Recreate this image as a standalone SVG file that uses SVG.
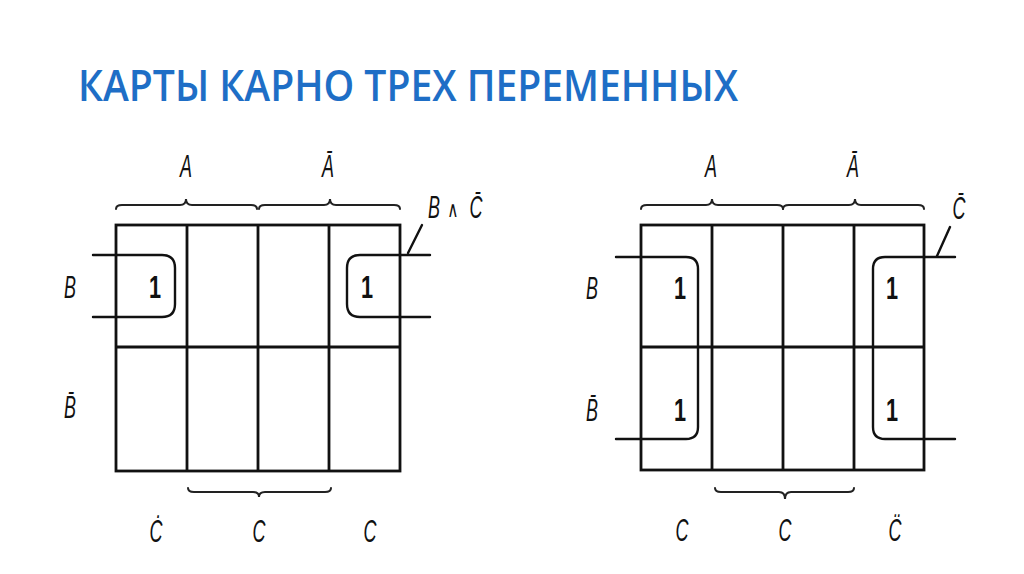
<svg xmlns="http://www.w3.org/2000/svg" width="1024" height="574" viewBox="0 0 1024 574">
<style>
.title{font-family:"Open Sans","Noto Sans",sans-serif;font-weight:600;font-size:44px;fill:#1E6EC6}
.grid{fill:none;stroke:#111;stroke-width:2.8}
.loop{fill:none;stroke:#111;stroke-width:2.4;stroke-linecap:round;stroke-linejoin:round}
.brace{fill:none;stroke:#222;stroke-width:2;stroke-linecap:round}
.lbl{font-family:"Liberation Sans","DejaVu Sans",sans-serif;font-style:italic;font-size:31px;fill:#111;text-anchor:middle}
.one{font-family:"Liberation Sans","DejaVu Sans",sans-serif;font-weight:bold;font-size:31px;fill:#111;text-anchor:middle}
</style>
<rect width="1024" height="574" fill="#fff"/>
<text class="title" x="78" y="101" textLength="660" lengthAdjust="spacingAndGlyphs">КАРТЫ КАРНО ТРЕХ ПЕРЕМЕННЫХ</text>

<g id="map1">
<rect class="grid" x="116" y="225" width="284" height="246"/>
<path class="grid" d="M187,225V471M258,225V471M329,225V471M116,347H400"/>
<text class="one" transform="translate(155,298) scale(0.7,1)">1</text>
<text class="one" transform="translate(367,298) scale(0.7,1)">1</text>
</g>
<g id="map1-labels">
<text class="lbl" transform="translate(186,177) scale(0.58,1)">A</text>
<text class="lbl" transform="translate(328,177) scale(0.58,1)">Ā</text>
<text class="lbl" transform="translate(434,218) scale(0.58,1)">B</text>
<text class="lbl" transform="translate(453,217) scale(0.7,1)" style="font-style:normal;font-size:22px">∧</text>
<text class="lbl" transform="translate(476,218) scale(0.58,1)">C̄</text>
<text class="lbl" transform="translate(70,298) scale(0.58,1)">B</text>
<text class="lbl" transform="translate(70,418) scale(0.58,1)">B̄</text>
<text class="lbl" transform="translate(156,542) scale(0.58,1)">Ċ</text>
<text class="lbl" transform="translate(259,542) scale(0.58,1)">C</text>
<text class="lbl" transform="translate(370,542) scale(0.58,1)">C</text>
</g>

<g id="map2">
<rect class="grid" x="641" y="225" width="283" height="245"/>
<path class="grid" d="M712,225V470M783,225V470M854,225V470M641,347H924"/>
<text class="one" transform="translate(680,299) scale(0.7,1)">1</text>
<text class="one" transform="translate(680,421) scale(0.7,1)">1</text>
<text class="one" transform="translate(892,299) scale(0.7,1)">1</text>
<text class="one" transform="translate(892,421) scale(0.7,1)">1</text>
</g>
<g id="map2-labels">
<text class="lbl" transform="translate(711,177) scale(0.58,1)">A</text>
<text class="lbl" transform="translate(853,177) scale(0.58,1)">Ā</text>
<text class="lbl" transform="translate(959,219) scale(0.58,1)">C̄</text>
<text class="lbl" transform="translate(592,299) scale(0.58,1)">B</text>
<text class="lbl" transform="translate(592,421) scale(0.58,1)">B̄</text>
<text class="lbl" transform="translate(682,541) scale(0.58,1)">C</text>
<text class="lbl" transform="translate(785,541) scale(0.58,1)">C</text>
<text class="lbl" transform="translate(895,541) scale(0.58,1)">C̈</text>
</g>

<g id="connectors">
<path class="loop" d="M93,255H162Q175,255 175,268V304Q175,317 162,317H93"/>
<path class="loop" d="M430,255H360Q347,255 347,268V304Q347,317 360,317H430"/>
<path class="loop" d="M422,225L408,253"/>
<path class="loop" d="M616,257H686Q698,257 698,269V427Q698,439 686,439H616"/>
<path class="loop" d="M955,257H885Q873,257 873,269V427Q873,439 885,439H955"/>
<path class="loop" d="M950,227L937,256"/>
<path class="brace" d="M116,209Q116,205 122,205H180Q186,205 186,199Q186,205 192,205H251Q257,205 257,209"/>
<path class="brace" d="M259,209Q259,205 265,205H324Q330,205 330,199Q330,205 336,205H394Q400,205 400,209"/>
<path class="brace" d="M641,209Q641,205 647,205H706Q712,205 712,199Q712,205 718,205H777Q783,205 783,209"/>
<path class="brace" d="M783,209Q783,205 789,205H849Q855,205 855,199Q855,205 861,205H918Q924,205 924,209"/>
<path class="brace" d="M188,488Q188,492 194,492H253Q259,492 259,497Q259,492 265,492H325Q331,492 331,488"/>
<path class="brace" d="M715,488Q715,492 721,492H779Q785,492 785,499Q785,492 791,492H848Q854,492 854,488"/>
</g>
</svg>
